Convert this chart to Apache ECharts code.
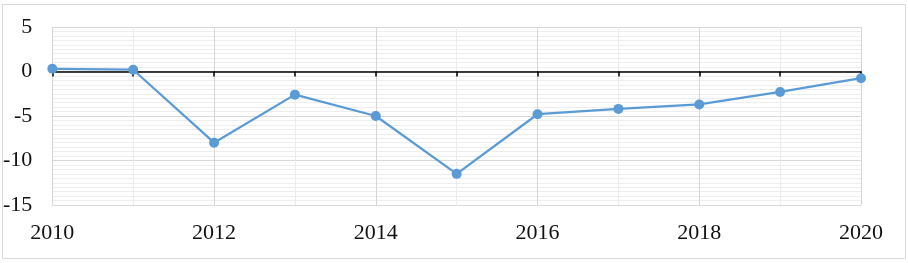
<!DOCTYPE html>
<html><head><meta charset="utf-8">
<script src="https://cdn.jsdelivr.net/npm/echarts@6/dist/echarts.min.js"></script>
<style>html,body{margin:0;padding:0;background:#fff}#c{width:908px;height:263px}</style>
</head><body><div id="c"></div>
<script>
const years = [2010, 2011, 2012, 2013, 2014, 2015, 2016, 2017, 2018, 2019, 2020];
const values = [0.3, 0.2, -8.0, -2.6, -5.0, -11.5, -4.8, -4.2, -3.7, -2.3, -0.75];
const yTicks = [-15, -10, -5, 0, 5];
const xLabelYears = [2010, 2012, 2014, 2016, 2018, 2020];

const chart = echarts.init(document.getElementById('c'), null, {renderer: 'canvas'});
const font = '"Liberation Serif", "Times New Roman", serif';
chart.setOption({
  animation: false,
  graphic: [{type: 'rect', shape: {x: 2.5, y: 4.5, width: 903, height: 254}, style: {fill: 'none', stroke: '#d9d9d9', lineWidth: 1}, z: -1}],
  grid: {left: 50, right: 47, top: 27, bottom: 58},
  xAxis: [{
    type: 'value', min: years[0], max: years[years.length - 1], interval: 1,
    axisLine: {show: false, onZero: false}, axisTick: {show: false},
    axisLabel: {margin: 17, fontFamily: font, fontSize: 22, color: '#111',
      formatter: v => xLabelYears.includes(v) ? String(v) : ''},
    splitLine: {show: true, lineStyle: {color: ['#d6d6d6', '#ececec'], width: 1}}
  }, {
    type: 'value', min: years[0], max: years[years.length - 1], interval: 1, position: 'bottom',
    axisLine: {show: true, onZero: true, lineStyle: {color: '#000', width: 1.5}},
    axisTick: {show: true, inside: false, length: 5, lineStyle: {color: '#000', width: 1.5}},
    axisLabel: {show: false}, splitLine: {show: false}
  }],
  yAxis: {
    type: 'value', min: yTicks[0], max: yTicks[yTicks.length - 1], interval: 5,
    axisLine: {show: false}, axisTick: {show: false},
    axisLabel: {margin: 20, fontFamily: font, fontSize: 22, color: '#111'},
    splitLine: {show: true, lineStyle: {color: '#d9d9d9', width: 1}},
    minorTick: {show: false, splitNumber: 10},
    minorSplitLine: {show: true, lineStyle: {color: '#eeeeee', width: 1}}
  },
  series: [{
    type: 'line', xAxisIndex: 0,
    data: years.map((y, i) => [y, values[i]]),
    symbol: 'circle', symbolSize: 10,
    lineStyle: {color: '#5b9bd5', width: 2.25},
    itemStyle: {color: '#5b9bd5'}, z: 5
  }]
});
</script></body></html>
